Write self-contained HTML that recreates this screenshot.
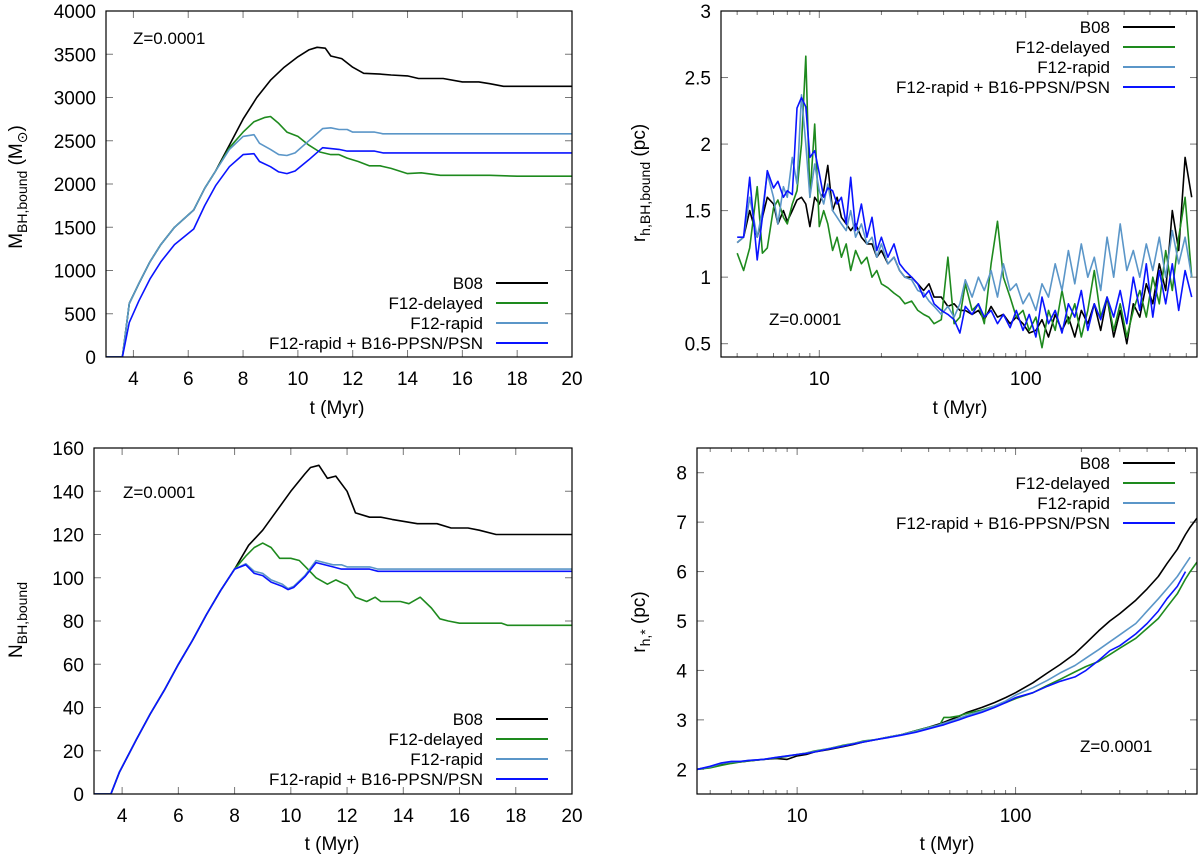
<!DOCTYPE html>
<html><head><meta charset="utf-8"><style>
body{margin:0;background:#fff}
svg{display:block;font-family:"Liberation Sans",sans-serif}
</style></head><body>
<svg id="fig" width="1200" height="860" viewBox="0 0 1200 860" xmlns="http://www.w3.org/2000/svg"></svg>
<script>
// ---------- DATA ----------
const mT_b08=[3,3.6,3.85,4.2,4.6,5,5.5,6.2,6.6,7,7.5,8,8.5,9,9.5,10,10.4,10.7,11,11.2,11.6,12,12.4,13,13.4,14,14.4,15.3,16,16.6,17,17.5,20];
const mV_b08=[0,0,620,850,1100,1300,1500,1700,1950,2150,2450,2750,3000,3200,3350,3470,3550,3580,3570,3480,3450,3350,3280,3270,3260,3250,3220,3220,3180,3180,3160,3130,3130];
const mT_del=[3,3.6,3.85,4.2,4.6,5,5.5,6.2,6.6,7,7.5,8,8.4,8.8,9,9.3,9.6,10,10.4,10.8,11.2,11.5,11.8,12.2,12.6,13,13.4,14,14.5,15.2,16,17,18,20];
const mV_del=[0,0,620,850,1100,1300,1500,1700,1950,2150,2420,2600,2720,2770,2780,2700,2600,2550,2450,2370,2340,2340,2300,2260,2210,2210,2180,2120,2130,2100,2100,2100,2090,2090];
const mT_rap=[3,3.6,3.85,4.2,4.6,5,5.5,6.2,6.6,7,7.5,8,8.4,8.6,9,9.3,9.6,9.9,10.4,10.9,11.2,11.5,11.8,12,12.8,13.1,20];
const mV_rap=[0,0,620,850,1100,1300,1500,1700,1950,2150,2400,2550,2570,2470,2400,2340,2330,2360,2500,2640,2650,2630,2630,2600,2600,2580,2580];
const mT_ppsn=[3,3.6,3.85,4.2,4.6,5,5.5,6.2,6.6,7,7.5,8,8.4,8.6,9,9.3,9.6,9.9,10.4,10.9,11.5,11.8,12.8,13.1,20];
const mV_ppsn=[0,0,400,650,900,1100,1300,1480,1750,1980,2200,2340,2350,2260,2200,2140,2120,2150,2280,2420,2400,2380,2380,2360,2360];

const nT_b08=[3,3.6,3.9,4.5,5,5.5,6,6.5,7,7.5,8,8.5,9,9.5,10,10.5,10.7,11,11.3,11.6,12,12.3,12.8,13.2,13.6,14.5,15.2,15.7,16.3,16.7,17.3,20];
const nV_b08=[0,0,10,25,37,48,60,71,83,94,104,115,122,131,140,148,151,152,146,147,140,130,128,128,127,125,125,123,123,122,120,120];
const nT_del=[3,3.6,3.9,4.5,5,5.5,6,6.5,7,7.5,8,8.4,8.7,9,9.3,9.6,10,10.3,10.6,10.9,11.3,11.6,12,12.3,12.7,13,13.2,13.9,14.2,14.6,15,15.3,15.6,16,17.5,17.7,20];
const nV_del=[0,0,10,25,37,48,60,71,83,94,104,110,114,116,114,109,109,108,104,100,97,99,96.5,91,89,91,89,89,88,91,86,81,80,79,79,78,78];
const nT_rap=[3,3.6,3.9,4.5,5,5.5,6,6.5,7,7.5,8,8.4,8.7,9,9.3,9.7,9.9,10.1,10.5,10.9,11.5,11.8,12,12.8,13.1,20];
const nV_rap=[0,0,10,25,37,48,60,71,83,94,104,106.5,103,102,99,97,95,96,101,108,106,106,105,105,104,104];
const nV_ppsn=[0,0,10,25,37,48,60,71,83,94,104,106,102,101,98,96,94.5,95.5,100.5,107,105,104,104,104,103,103];

const rT=[4,4.3,4.6,5,5.3,5.6,6,6.3,6.7,7,7.4,7.8,8.2,8.6,9,9.5,10,10.5,11,11.6,12.2,12.8,13.5,14.2,15,16,17,18,19,20,21.5,23,24.5,26,28,30,32,34,36,39,42,45,48,51,55,59,63,68,73,78,84,90,97,104,112,120,129,139,150,161,173,186,200,215,231,248,267,287,309,332,357,384,413,444,477,513,551,592,637];
const rV_b08=[1.26,1.3,1.5,1.3,1.45,1.6,1.55,1.4,1.5,1.42,1.5,1.58,1.6,1.55,1.38,1.6,1.55,1.65,1.84,1.5,1.6,1.45,1.4,1.35,1.4,1.3,1.25,1.25,1.15,1.2,1.1,1.15,1.05,1.0,1.0,0.95,0.9,0.95,0.85,0.85,0.78,0.8,0.75,0.75,0.72,0.75,0.68,0.78,0.7,0.72,0.65,0.7,0.65,0.58,0.6,0.68,0.55,0.72,0.6,0.7,0.55,0.75,0.65,0.8,0.6,0.85,0.55,0.75,0.5,0.8,0.7,0.95,0.8,1.1,0.9,1.5,1.2,1.9,1.6];
const rV_del=[1.18,1.05,1.22,1.68,1.18,1.22,1.52,1.58,1.45,1.4,1.55,1.65,2.0,2.66,1.6,2.15,1.38,1.5,1.4,1.2,1.3,1.15,1.25,1.05,1.2,1.1,1.15,1.0,1.05,0.95,0.92,0.88,0.85,0.8,0.82,0.75,0.72,0.7,0.65,0.68,1.15,0.65,0.7,0.95,0.75,0.8,0.65,1.1,1.42,1.0,0.85,0.7,0.75,0.6,0.7,0.47,0.75,0.6,0.9,0.65,0.8,0.55,0.75,1.05,0.7,0.85,0.6,0.8,0.55,0.75,0.9,0.7,1.0,0.8,1.2,0.9,1.3,1.6,1.0];
const rV_rap=[1.26,1.3,1.6,1.3,1.5,1.78,1.6,1.4,1.68,1.6,1.9,1.7,2.37,2.0,1.6,1.85,1.65,1.55,1.7,1.5,1.45,1.4,1.35,1.5,1.3,1.4,1.25,1.3,1.15,1.25,1.1,1.15,1.05,1.0,0.98,0.9,0.88,0.82,0.78,0.72,0.78,0.7,0.8,0.98,0.85,1.0,0.9,1.05,0.85,1.1,0.9,0.95,0.8,0.88,0.75,0.95,0.85,1.1,0.9,1.2,0.95,1.25,1.0,1.15,0.9,1.3,1.0,1.4,1.05,1.2,1.0,1.25,1.05,1.3,1.0,1.35,1.1,1.3,1.0];
const rV_ppsn=[1.3,1.3,1.75,1.13,1.45,1.8,1.67,1.72,1.6,1.65,1.62,2.27,2.35,2.28,1.9,1.95,1.78,1.6,1.67,1.65,1.55,1.6,1.4,1.75,1.35,1.55,1.3,1.45,1.2,1.3,1.15,1.25,1.1,1.05,1.0,0.95,0.85,0.9,0.8,0.75,0.72,0.68,0.58,0.78,0.72,0.8,0.7,0.75,0.65,0.72,0.62,0.75,0.6,0.72,0.55,0.85,0.65,0.75,0.58,0.8,0.7,0.9,0.6,0.8,0.68,0.85,0.7,0.9,0.65,1.0,0.75,1.1,0.7,1.05,0.8,1.1,0.75,1.05,0.85];

const sT=[3.5,4,4.5,5,5.5,6,7,8,9,10,11,12,14,16,18,20,23,26,30,35,40,45,47,50,55,60,70,80,90,100,120,140,160,187,210,240,270,300,355,400,450,493,550,600,630,676];
const sV_b08=[2.0,2.05,2.1,2.15,2.15,2.17,2.2,2.22,2.2,2.27,2.3,2.35,2.4,2.45,2.5,2.55,2.6,2.65,2.7,2.78,2.85,2.92,2.95,3.0,3.07,3.15,3.25,3.35,3.45,3.55,3.75,3.95,4.12,4.34,4.55,4.8,5.0,5.15,5.42,5.65,5.9,6.16,6.45,6.75,6.9,7.08];
const sV_del=[2.0,2.03,2.08,2.12,2.15,2.17,2.2,2.23,2.26,2.3,2.33,2.37,2.42,2.48,2.52,2.57,2.6,2.65,2.7,2.78,2.85,2.9,3.05,3.05,3.08,3.13,3.2,3.28,3.35,3.43,3.55,3.7,3.82,3.97,4.08,4.18,4.32,4.45,4.65,4.85,5.05,5.28,5.55,5.85,6.0,6.19];
const sV_rap=[2.0,2.05,2.12,2.15,2.16,2.18,2.2,2.24,2.27,2.3,2.33,2.36,2.42,2.47,2.52,2.56,2.6,2.65,2.7,2.77,2.84,2.9,2.93,2.97,3.03,3.09,3.18,3.28,3.38,3.5,3.65,3.8,3.95,4.1,4.25,4.42,4.58,4.72,4.95,5.2,5.45,5.65,5.9,6.15,6.29,null];
const sV_ppsn=[2.0,2.06,2.13,2.16,2.16,2.18,2.2,2.24,2.27,2.3,2.32,2.35,2.41,2.46,2.51,2.55,2.6,2.64,2.69,2.75,2.82,2.88,2.9,2.94,3.0,3.06,3.15,3.25,3.35,3.45,3.55,3.68,3.78,3.87,4.0,4.2,4.4,4.5,4.74,4.95,5.2,5.45,5.7,6.0,null,null];

const legendNames=["B08","F12-delayed","F12-rapid","F12-rapid + B16-PPSN/PSN"];
const colors=["#000000","#1e8a1e","#5b96c8","#0a14ff"];

// ---------- DRAW ----------
const NS="http://www.w3.org/2000/svg";
const svg=document.getElementById('fig');
function el(tag,attrs,parent){const e=document.createElementNS(NS,tag);for(const k in attrs)e.setAttribute(k,attrs[k]);(parent||svg).appendChild(e);return e;}
let clipId=0;

function panel(p){
  const g=el('g',{});
  
  
  const L=v=>Math.log10(v);
  const sx=v=>p.xlog? p.x0+(L(v)-L(p.xmin))/(L(p.xmax)-L(p.xmin))*(p.x1-p.x0) : p.x0+(v-p.xmin)/(p.xmax-p.xmin)*(p.x1-p.x0);
  const sy=v=>p.y1-(v-p.ymin)/(p.ymax-p.ymin)*(p.y1-p.y0);
  // ticks
  const tg=el('g',{stroke:'#777','stroke-width':1},g);
  
  
  p.yt.forEach(v=>{const y=sy(v);
    el('line',{x1:p.x0,y1:y,x2:p.x0+7,y2:y},tg);el('line',{x1:p.x1,y1:y,x2:p.x1-7,y2:y},tg);
    const t=el('text',{x:p.x0-10,y:y+7,'text-anchor':'end','font-size':19,fill:'#000'},g);
    
    
    t.textContent=v;});
  const xMaj=[],xMin=[];
  if(p.xlog){for(let d=1;d<=1000;d*=10)for(let k=1;k<10;k++){const v=k*d;if(v>=p.xmin&&v<=p.xmax)(k===1?xMaj:xMin).push(v);}}
  else{for(let v=p.xmin;v<=p.xmax;v++)(v%2===0?xMaj:xMin).push(v);}
  xMaj.forEach(v=>{const x=sx(v);
    el('line',{x1:x,y1:p.y1,x2:x,y2:p.y1-7},tg);el('line',{x1:x,y1:p.y0,x2:x,y2:p.y0+7},tg);
    const t=el('text',{x:x,y:p.y1+28,'text-anchor':'middle','font-size':19,fill:'#000'},g);
    
    
    t.textContent=v;});
  if(p.xlog) xMin.forEach(v=>{const x=sx(v);
    el('line',{x1:x,y1:p.y1,x2:x,y2:p.y1-4},tg);el('line',{x1:x,y1:p.y0,x2:x,y2:p.y0+4},tg);});
  // series
  const cid='c'+(clipId++);
  const cp=el('clipPath',{id:cid},g);el('rect',{x:p.x0,y:p.y0,width:p.x1-p.x0,height:p.y1-p.y0},cp);
  const sg=el('g',{'clip-path':'url(#'+cid+')',fill:'none','stroke-width':1.6,'stroke-linejoin':'round'},g);
  p.series.forEach((s,i)=>{
    let d='';s.t.forEach((t,j)=>{const v=s.v[j];if(v===null||v===undefined)return;d+=(d?'L':'M')+sx(t).toFixed(1)+','+sy(v).toFixed(1);});
    const path=el('path',{d:d,stroke:colors[i]},sg);
    
    
  });
  // frame
  const fr=el('rect',{x:p.x0,y:p.y0,width:p.x1-p.x0,height:p.y1-p.y0,fill:'none',stroke:'#000','stroke-width':1.2},g);
  
  
  // legend
  const lg=el('g',{},g);
  
  
  legendNames.forEach((n,i)=>{const y=p.legY+i*20;
    const t=el('text',{x:p.legX,y:y+6,'text-anchor':'end','font-size':17,fill:'#000'},lg);
    
    
    t.textContent=n;
    el('line',{x1:p.legX+13,y1:y,x2:p.legX+65,y2:y,stroke:colors[i],'stroke-width':2},lg);});
  // Z label
  const z=el('text',{x:p.zx,y:p.zy+6,'font-size':17,fill:'#000'},g);
  
  
  z.textContent='Z=0.0001';
  // x title
  const xt=el('text',{x:p.xtx,y:p.xty+7,'text-anchor':'middle','font-size':19,fill:'#000'},g);
  
  
  xt.textContent='t (Myr)';
  // y title
  const yt=el('text',{x:0,y:0,'text-anchor':'middle','font-size':19,fill:'#000',transform:`translate(${p.ytx+7},${p.yty}) rotate(-90)`},g);
  
  
  p.ytitle.forEach(part=>{const ts=el('tspan',part.sub?{'font-size':14,dy:5}:(part.up?{'font-size':19,dy:-5}:{}),yt);ts.textContent=part.s;});
}

panel({name:'panel-bh-mass',x0:106,x1:572,y0:11,y1:357,xmin:3,xmax:20,ymin:0,ymax:4000,xlog:false,
  yt:[0,500,1000,1500,2000,2500,3000,3500,4000],
  series:[{t:mT_b08,v:mV_b08},{t:mT_del,v:mV_del},{t:mT_rap,v:mV_rap},{t:mT_ppsn,v:mV_ppsn}],
  legX:483,legY:283,zx:133,zy:38,xtx:337,xty:407,ytx:15,yty:187,
  ytitle:[{s:'M'},{s:'BH,bound',sub:true},{s:' (M',up:true},{s:'⊙',sub:true},{s:')',up:true}]});

panel({name:'panel-bh-radius',x0:721,x1:1197,y0:11,y1:357,xmin:3.34,xmax:676,ymin:0.4,ymax:3,xlog:true,
  yt:[0.5,1,1.5,2,2.5,3],
  series:[{t:rT,v:rV_b08},{t:rT,v:rV_del},{t:rT,v:rV_rap},{t:rT,v:rV_ppsn}],
  legX:1110,legY:27,zx:769,zy:319,xtx:960,xty:407,ytx:638,yty:183,
  ytitle:[{s:'r'},{s:'h,BH,bound',sub:true},{s:' (pc)',up:true}]});

panel({name:'panel-bh-number',x0:94,x1:572,y0:448,y1:794,xmin:3,xmax:20,ymin:0,ymax:160,xlog:false,
  yt:[0,20,40,60,80,100,120,140,160],
  series:[{t:nT_b08,v:nV_b08},{t:nT_del,v:nV_del},{t:nT_rap,v:nV_rap},{t:nT_rap,v:nV_ppsn}],
  legX:483,legY:719,zx:123,zy:492,xtx:332,xty:843,ytx:15,yty:620,
  ytitle:[{s:'N'},{s:'BH,bound',sub:true}]});

panel({name:'panel-star-radius',x0:697,x1:1197,y0:448,y1:794,xmin:3.48,xmax:677,ymin:1.5,ymax:8.5,xlog:true,
  yt:[2,3,4,5,6,7,8],
  series:[{t:sT,v:sV_b08},{t:sT,v:sV_del},{t:sT,v:sV_rap},{t:sT,v:sV_ppsn}],
  legX:1110,legY:463,zx:1080,zy:746,xtx:947,xty:843,ytx:638,yty:622,
  ytitle:[{s:'r'},{s:'h,*',sub:true},{s:' (pc)',up:true}]});
</script>
</body></html>
